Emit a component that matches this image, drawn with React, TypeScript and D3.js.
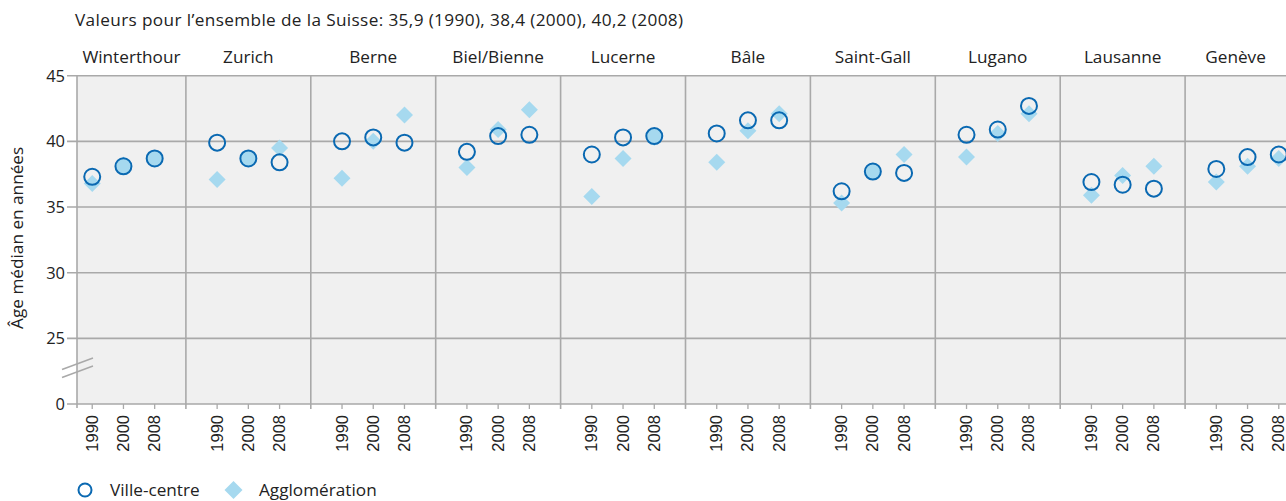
import React from "react";
import * as d3 from "d3";

const cities = ["Winterthour", "Zurich", "Berne", "Biel/Bienne", "Lucerne", "Bâle", "Saint-Gall", "Lugano", "Lausanne", "Genève"];
const years = ["1990", "2000", "2008"];
// Ville-centre median age per city, per year
const villeCentre = [
  [37.3, 38.1, 38.7],
  [39.9, 38.7, 38.4],
  [40.0, 40.3, 39.9],
  [39.2, 40.4, 40.5],
  [39.0, 40.3, 40.4],
  [40.6, 41.6, 41.6],
  [36.2, 37.7, 37.6],
  [40.5, 40.9, 42.7],
  [36.9, 36.7, 36.4],
  [37.9, 38.8, 39.0],
];
// Agglomération median age per city, per year
const agglomeration = [
  [36.8, 38.2, 38.7],
  [37.1, 38.7, 39.5],
  [37.2, 40.0, 42.0],
  [38.0, 40.9, 42.4],
  [35.8, 38.7, 40.3],
  [38.4, 40.8, 42.1],
  [35.3, 37.7, 39.0],
  [38.8, 40.6, 42.1],
  [35.9, 37.4, 38.1],
  [36.9, 38.1, 38.7],
];
const yTicks = [20, 25, 30, 35, 40, 45];
const yTickLabels = ["0", "25", "30", "35", "40", "45"];
const subtitle = "Valeurs pour l\u2019ensemble de la Suisse: 35,9 (1990), 38,4 (2000), 40,2 (2008)";
const yLabel = "Âge médian en années";
const legendLabels = ["Ville-centre", "Agglomération"];

const W = 1286;
const H = 501;
const plotLeft = 77;
const plotTop = 75.7;
const plotBottom = 404;
const grid = "#a9a9a9";
const dark = "#0a69b2";
const light = "#a6d9ef";
const font = "'Open Sans', 'Noto Sans', sans-serif";
const fs = 17.2;

export default function App() {
  const x = d3.scaleBand<string>().domain(cities).range([61, 61 + 124.9 * cities.length]).paddingInner(0).paddingOuter(0);
  const xi = d3.scalePoint<string>().domain(years).range([0, x.bandwidth()]).padding(1);
  const y = d3.scaleLinear().domain([20, 45]).range([plotBottom, plotTop]);

  const diamond = (cx: number, cy: number, r: number) => `M${cx},${cy - r}L${cx + r},${cy}L${cx},${cy + r}L${cx - r},${cy}Z`;

  return (
    <svg width={W} height={H} style={{ position: "absolute", left: 0, top: 0, background: "#fff" }}>
      <defs>
        <clipPath id="plotclip">
          <rect x={plotLeft} y={plotTop - 12} width={W - plotLeft} height={plotBottom - plotTop + 24} />
        </clipPath>
      </defs>
      <text x={75} y={26} fontFamily={font} fontSize={fs} letterSpacing={0.37} fill="#222">{subtitle}</text>

      {/* plot background */}
      <rect x={plotLeft} y={plotTop} width={W - plotLeft} height={plotBottom - plotTop} fill="#f0f0f0" />

      {/* horizontal gridlines */}
      {yTicks.map((t, i) => (
        <g key={"yt" + i}>
          <line x1={plotLeft - 10} x2={W} y1={y(t)} y2={y(t)} stroke={grid} strokeWidth={1.6} />
          <text x={plotLeft - 12} y={y(t) + 6} textAnchor="end" fontFamily={font} fontSize={16.5} fill="#222">{yTickLabels[i]}</text>
        </g>
      ))}
      <line x1={plotLeft} x2={plotLeft} y1={plotTop} y2={plotBottom + 4} stroke={grid} strokeWidth={1.6} />

      {/* axis break */}
      <line x1={62} y1={369.5} x2={93} y2={358} stroke={grid} strokeWidth={1.5} />
      <line x1={62} y1={377.5} x2={93} y2={366} stroke={grid} strokeWidth={1.5} />

      {/* panel dividers + titles + year ticks */}
      {cities.map((c, ci) => {
        const x0 = x(c)!;
        const x1 = x0 + x.bandwidth();
        const vx0 = Math.max(x0, plotLeft);
        const vx1 = Math.min(x1, W);
        return (
          <g key={"p" + ci}>
            {ci > 0 && <line x1={x0} x2={x0} y1={plotTop} y2={plotBottom + 5} stroke={grid} strokeWidth={1.6} />}
            <text x={(vx0 + vx1) / 2} y={63} textAnchor="middle" fontFamily={font} fontSize={fs} fill="#222">{c}</text>
            {years.map((yr) => {
              const px = x0 + xi(yr)!;
              return (
                <g key={yr}>
                  <line x1={px} x2={px} y1={plotBottom} y2={plotBottom + 5} stroke={grid} strokeWidth={1.3} />
                  <text transform={`translate(${px + 5.5},${plotBottom + 11}) rotate(-90)`} textAnchor="end" fontFamily="'Liberation Sans', Arial, sans-serif" fontSize={16.5} fill="#222">{yr}</text>
                </g>
              );
            })}
          </g>
        );
      })}

      {/* data */}
      <g clipPath="url(#plotclip)">
        {cities.map((c, ci) =>
          years.map((yr, yi) => {
            const px = x(c)! + xi(yr)!;
            const a = agglomeration[ci][yi];
            const v = villeCentre[ci][yi];
            const same = Math.abs(a - v) < 0.15;
            return (
              <g key={c + yr}>
                <path d={diamond(px, y(a), 8.5)} fill={light} />
                <circle cx={px} cy={y(v)} r={8} fill={same ? light : "none"} stroke={dark} strokeWidth={2} />
              </g>
            );
          })
        )}
      </g>

      {/* y axis label */}
      <text transform={`translate(23,${(plotTop + plotBottom) / 2 - 2}) rotate(-90)`} textAnchor="middle" fontFamily={font} fontSize={fs} fill="#222">{yLabel}</text>

      {/* legend */}
      <circle cx={85} cy={490} r={6.5} fill="none" stroke={dark} strokeWidth={2} />
      <text x={110} y={496} fontFamily={font} fontSize={fs} fill="#222">{legendLabels[0]}</text>
      <path d={diamond(233.5, 490, 9)} fill={light} />
      <text x={259} y={496} fontFamily={font} fontSize={fs} fill="#222">{legendLabels[1]}</text>
    </svg>
  );
}
